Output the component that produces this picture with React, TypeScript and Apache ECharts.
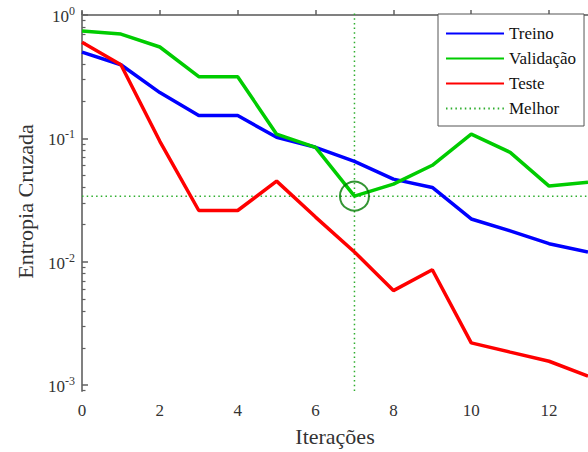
import React, { useEffect, useRef } from "react";
import * as echarts from "echarts";

const iterations = [0, 1, 2, 3, 4, 5, 6, 7, 8, 9, 10, 11, 12, 13];
const treino = [0.5, 0.395, 0.235, 0.153, 0.153, 0.102, 0.0846, 0.065, 0.0467, 0.04, 0.0222, 0.0178, 0.014, 0.012];
const validacao = [0.74, 0.7, 0.55, 0.316, 0.316, 0.108, 0.0846, 0.034, 0.0426, 0.0605, 0.108, 0.077, 0.041, 0.044];
const teste = [0.6, 0.395, 0.0946, 0.026, 0.026, 0.045, 0.023, 0.012, 0.00583, 0.0086, 0.0022, 0.00185, 0.00156, 0.00118];
const bestEpoch = 7;
const bestValue = 0.034;
const xTickLabels = [0, 2, 4, 6, 8, 10, 12];
const yDecadeExponents = [-3, -2, -1, 0];
const xRange = [0, 13];
const yExpRange = [-3.048, 0.024];

const FONT = "Times New Roman, Liberation Serif, serif";

export default function App() {
  const ref = useRef<HTMLDivElement>(null);
  useEffect(() => {
    if (!ref.current) return;
    const chart = echarts.init(ref.current, undefined, { renderer: "svg" });
    const lg = (v: number) => Math.log10(v);
    const toPts = (arr: number[]) => iterations.map((x, i) => [x, lg(arr[i])]);
    const minorTicks: number[] = [];
    for (let d = -4; d <= 0; d++) {
      for (let k = 2; k <= 9; k++) {
        const v = d + Math.log10(k);
        if (v > yExpRange[0] && v < yExpRange[1]) minorTicks.push(v);
      }
    }
    const bestY = lg(bestValue);
    const dotted = { color: "#2fae2f", width: 1.5, type: [1.5, 3.2] as any };
    chart.setOption({
      animation: false,
      backgroundColor: "#fff",
      textStyle: { fontFamily: FONT },
      grid: { left: 82, right: 0, top: 12, bottom: 59 },
      legend: {
        orient: "vertical",
        left: 438,
        top: 14,
        backgroundColor: "#fff",
        borderColor: "#555",
        borderWidth: 1,
        borderRadius: 0,
        padding: [11, 8, 9, 7],
        itemWidth: 58,
        itemHeight: 14,
        itemGap: 8,
        itemStyle: { opacity: 0 },
        data: ["Treino", "Validação", "Teste", "Melhor"],
        textStyle: { fontFamily: FONT, fontSize: 17, color: "#111" },
      },
      xAxis: {
        type: "value",
        min: xRange[0],
        max: xRange[1],
        name: "Iterações",
        nameLocation: "middle",
        nameGap: 34,
        nameTextStyle: { fontFamily: FONT, fontSize: 22, color: "#333" },
        axisLine: { lineStyle: { color: "#808080", width: 2 } },
        axisTick: { inside: true, length: 5, customValues: xTickLabels, lineStyle: { color: "#606060", width: 1.5 } },
        axisLabel: { customValues: xTickLabels, fontFamily: FONT, fontSize: 17, color: "#333", margin: 11 },
        splitLine: { show: false },
      },
      yAxis: [
        {
          type: "value",
          min: yExpRange[0],
          max: yExpRange[1],
          name: "Entropia Cruzada",
          nameLocation: "middle",
          nameGap: 46,
          nameTextStyle: { fontFamily: FONT, fontSize: 22, color: "#333" },
          axisLine: { show: true, lineStyle: { color: "#808080", width: 2 } },
          axisTick: { inside: true, length: 6, customValues: yDecadeExponents, lineStyle: { color: "#606060", width: 1.5 } },
          axisLabel: {
            customValues: yDecadeExponents,
            margin: 7,
            formatter: (v: number) => `{b|10}{s|${Math.round(v)}}`,
            rich: {
              b: { fontFamily: FONT, fontSize: 17, color: "#333", verticalAlign: "bottom", lineHeight: 20 },
              s: { fontFamily: FONT, fontSize: 12, color: "#333", verticalAlign: "bottom", lineHeight: 20, padding: [0, 0, 8, 0] },
            },
          },
          splitLine: { show: false },
        },
        {
          type: "value",
          min: yExpRange[0],
          max: yExpRange[1],
          axisLine: { show: false },
          axisTick: { inside: true, length: 3.5, customValues: minorTicks, lineStyle: { color: "#606060", width: 1.2 } },
          axisLabel: { show: false },
          splitLine: { show: false },
          position: "left",
        },
      ],
      series: [
        {
          name: "Melhor",
          type: "line",
          data: [[xRange[0], bestY], [xRange[1], bestY]],
          symbol: "none",
          lineStyle: dotted,
          itemStyle: { color: "#2fae2f" },
          z: 1,
        },
        {
          name: "Melhor",
          type: "line",
          data: [[bestEpoch, yExpRange[0]], [bestEpoch, yExpRange[1]]],
          symbol: "none",
          lineStyle: dotted,
          itemStyle: { color: "#2fae2f" },
          z: 1,
        },
        {
          name: "Treino",
          type: "line",
          data: toPts(treino),
          symbol: "none",
          lineStyle: { color: "#0000ff", width: 3.5 },
          itemStyle: { color: "#0000ff" },
          z: 2,
        },
        {
          name: "Validação",
          type: "line",
          data: toPts(validacao),
          symbol: "none",
          lineStyle: { color: "#00cc00", width: 3.5 },
          itemStyle: { color: "#00cc00" },
          z: 3,
        },
        {
          name: "Teste",
          type: "line",
          data: toPts(teste),
          symbol: "none",
          lineStyle: { color: "#ff0000", width: 3.5 },
          itemStyle: { color: "#ff0000" },
          z: 2,
        },
        {
          name: "best",
          type: "scatter",
          data: [[bestEpoch, bestY]],
          symbol: "circle",
          symbolSize: 29,
          itemStyle: { color: "rgba(0,0,0,0)", borderColor: "#007a00", borderWidth: 2 },
          z: 4,
        },
      ],
    });
    return () => chart.dispose();
  }, []);
  return <div ref={ref} style={{ position: "fixed", left: 0, top: 0, width: 588, height: 452 }} />;
}
